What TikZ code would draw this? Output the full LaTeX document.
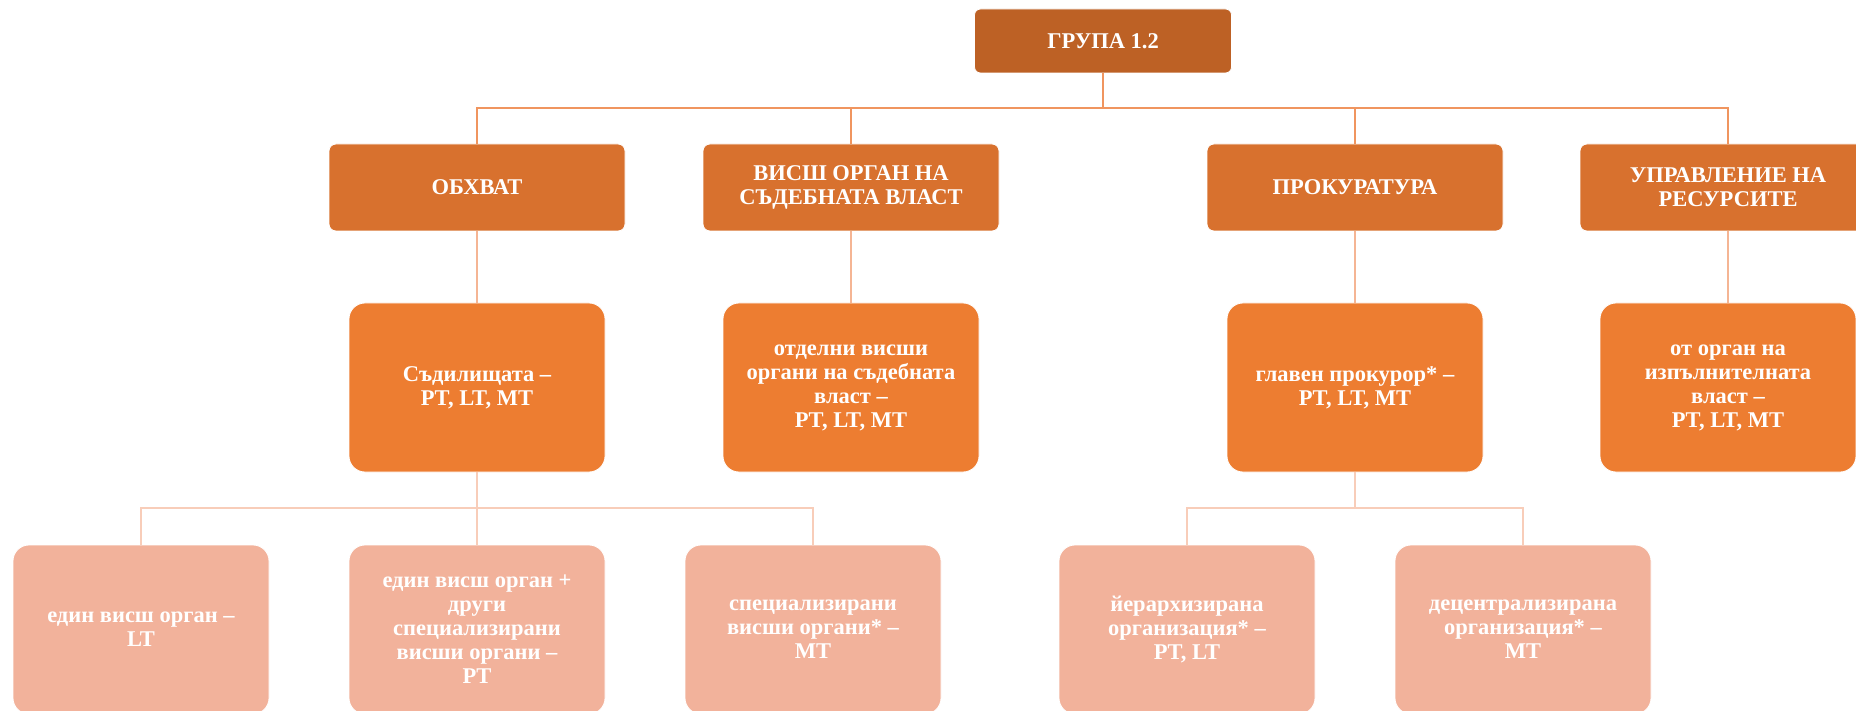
\documentclass[tikz,border=0pt]{standalone}
\usepackage{fontspec}
\setmainfont{Liberation Serif}
\definecolor{cTop}{HTML}{BD6125}
\definecolor{cL2}{HTML}{D8712E}
\definecolor{cL3}{HTML}{ED7D31}
\definecolor{cL4}{HTML}{F2B29B}
\definecolor{lnA}{HTML}{F0955F}
\definecolor{lnB}{HTML}{F5B594}
\definecolor{lnC}{HTML}{F8CDB9}
\tikzset{
  boxbase/.style={draw=white, line width=0.8pt, text=white, align=center, inner sep=0pt,
    font=\fontsize{22.5}{24}\selectfont\bfseries},
  topbox/.style={boxbase, fill=cTop, minimum width=257pt, minimum height=64pt, rounded corners=6pt},
  lvtwo/.style={boxbase, fill=cL2, minimum width=296pt, minimum height=87pt, rounded corners=7pt},
  lvthree/.style={boxbase, fill=cL3, minimum width=256pt, minimum height=169pt, rounded corners=16pt},
  lvfour/.style={boxbase, fill=cL4, minimum width=256pt, minimum height=169pt, rounded corners=16pt},
  linkA/.style={draw=lnA, line width=2.4pt},
  linkB/.style={draw=lnB, line width=2.4pt},
  linkC/.style={draw=lnC, line width=2.4pt},
}
\begin{document}
\begin{tikzpicture}[x=1pt,y=-1pt]
\useasboundingbox (0,0) rectangle (1856,711);
\clip (0,0) rectangle (1856,711);
% level 1
\node[topbox] (top) at (1103,41) {ГРУПА 1.2};
% level 2
\node[lvtwo] (obh) at (477,187.5) {ОБХВАТ};
\node[lvtwo] (vis) at (851,187.5) {ВИСШ ОРГАН НА\\СЪДЕБНАТА ВЛАСТ};
\node[lvtwo] (pro) at (1355,187.5) {ПРОКУРАТУРА};
\node[lvtwo] (upr) at (1728,187.5) {УПРАВЛЕНИЕ НА\\РЕСУРСИТЕ};
% level 3
\node[lvthree] (sad) at (477,387.5) {Съдилищата –\\PT, LT, MT};
\node[lvthree] (otd) at (851,387.5) {отделни висши\\органи на съдебната\\власт –\\PT, LT, MT};
\node[lvthree] (gla) at (1355,387.5) {главен прокурор* –\\PT, LT, MT};
\node[lvthree] (oto) at (1728,387.5) {от орган на\\изпълнителната\\власт –\\PT, LT, MT};
% level 4
\node[lvfour] (edn) at (141,629.5) {един висш орган –\\LT};
\node[lvfour] (edp) at (477,629.5) {един висш орган +\\други\\специализирани\\висши органи –\\PT};
\node[lvfour] (spe) at (813,629.5) {специализирани\\висши органи* –\\MT};
\node[lvfour] (yer) at (1187,629.5) {йерархизирана\\организация* –\\PT, LT};
\node[lvfour] (dec) at (1523,629.5) {децентрализирана\\организация* –\\MT};
% junction coordinates
\coordinate (jA) at (1103,108);
\coordinate (jS) at (477,508);
\coordinate (jG) at (1355,508);
% connectors level 1 -> 2
\foreach \c in {obh,vis,pro,upr}
  \draw[linkA] (top.south) -- (jA) -| (\c.north);
% connectors level 2 -> 3
\draw[linkB] (obh.south) -- (sad.north);
\draw[linkB] (vis.south) -- (otd.north);
\draw[linkB] (pro.south) -- (gla.north);
\draw[linkB] (upr.south) -- (oto.north);
% connectors level 3 -> 4
\foreach \c in {edn,edp,spe}
  \draw[linkC] (sad.south) -- (jS) -| (\c.north);
\foreach \c in {yer,dec}
  \draw[linkC] (gla.south) -- (jG) -| (\c.north);
\end{tikzpicture}
\end{document}
